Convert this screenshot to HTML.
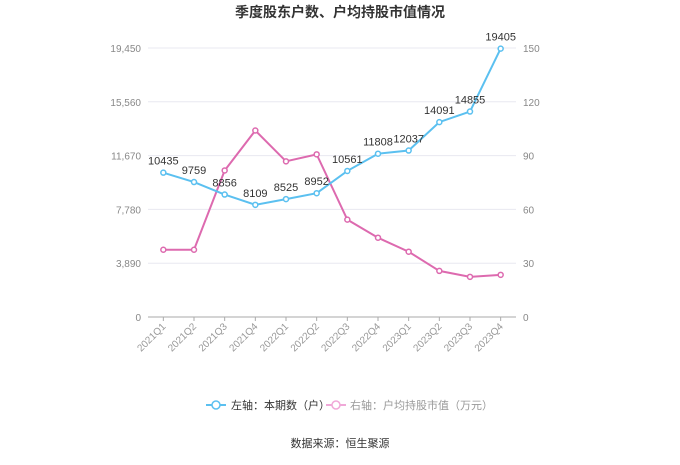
<!DOCTYPE html>
<html><head><meta charset="utf-8"><style>
body{margin:0;background:#fff;}
svg text{font-family:"Liberation Sans","Noto Sans CJK SC",sans-serif;}
</style></head><body>
<svg id="chart" width="680" height="460" xmlns="http://www.w3.org/2000/svg">
<text x="340" y="17" text-anchor="middle" font-size="14" font-weight="bold" fill="#333">季度股东户数、户均持股市值情况</text>
<g id="grid"></g><g id="axes"></g><g id="series"></g>
<g>
<g>
<line x1="206" y1="405" x2="226" y2="405" stroke="#5bc0f0" stroke-width="2"/><circle cx="216" cy="405" r="4" fill="#fff" stroke="#5bc0f0" stroke-width="1.5"/>
<text x="231" y="409" font-size="11" fill="#333">左轴：本期数（户）</text></g>
<g>
<line x1="326" y1="405" x2="346" y2="405" stroke="#f0a8d8" stroke-width="2"/><circle cx="336" cy="405" r="4" fill="#fff" stroke="#f0a8d8" stroke-width="1.5"/>
<text x="350" y="409" font-size="11" fill="#999">右轴：户均持股市值（万元）</text></g>
</g>
<text x="340" y="447" text-anchor="middle" font-size="11" fill="#333">数据来源：恒生聚源</text>
</svg>
<script>
const categories=["2021Q1","2021Q2","2021Q3","2021Q4","2022Q1","2022Q2","2022Q3","2022Q4","2023Q1","2023Q2","2023Q3","2023Q4"];
const holders=[10435,9759,8856,8109,8525,8952,10561,11808,12037,14091,14855,19405];
const avgValue=[37.5,37.5,81.7,104,86.8,90.7,54.3,44.2,36.4,25.7,22.4,23.5];
const leftTicks=[0,3890,7780,11670,15560,19450];
const rightTicks=[0,30,60,90,120,150];
const NS="http://www.w3.org/2000/svg";
const x0=148,x1=516,yTop=48,yBot=317;
const bw=(x1-x0)/categories.length;
const xs=i=>x0+bw*(i+0.5);
const yl=v=>yBot-(v/19450)*(yBot-yTop);
const yr=v=>yBot-(v/150)*(yBot-yTop);
function mk(tag,attrs,parent,text){const e=document.createElementNS(NS,tag);for(const k in attrs)e.setAttribute(k,attrs[k]);if(text!==undefined)e.textContent=text;parent.appendChild(e);return e;}
const grid=document.getElementById('grid'),axes=document.getElementById('axes'),series=document.getElementById('series');
leftTicks.forEach((t,i)=>{
 const y=yl(t);
 if(i>0){const g=mk('line',{x1:x0,x2:x1,y1:y,y2:y,stroke:'#e8e8f0','stroke-width':1},grid);
 
 }
 const l=mk('text',{x:141,y:y+4,'text-anchor':'end','font-size':10,fill:'#888'},axes,t.toLocaleString('en-US'));
 
 
});
rightTicks.forEach(t=>{
 const l=mk('text',{x:523,y:yr(t)+4,'font-size':10,fill:'#888'},axes,String(t));
 
 
});
const ax=mk('line',{x1:x0,x2:x1,y1:yBot,y2:yBot,stroke:'#aaa','stroke-width':1},axes);


categories.forEach((c,i)=>{
 const x=xs(i);
 mk('line',{x1:x,x2:x,y1:yBot,y2:yBot+4,stroke:'#aaa'},axes);
 const t=mk('text',{x:x+3,y:yBot+10,'text-anchor':'end','font-size':10,fill:'#999',transform:`rotate(-45 ${x+3} ${yBot+10})`},axes,c);
 
 
});
function drawSeries(vals,yf,color,name,labels){
 const p=mk('polyline',{points:vals.map((v,i)=>xs(i)+','+yf(v)).join(' '),fill:'none',stroke:color,'stroke-width':2},series);
 
 
 vals.forEach((v,i)=>{
  const c=mk('circle',{cx:xs(i),cy:yf(v),r:2.5,fill:'#fff',stroke:color,'stroke-width':1.5},series);
  
  
  if(labels){const t=mk('text',{x:xs(i),y:yf(v)-8,'text-anchor':'middle','font-size':11,fill:'#333'},series,String(v));
  
  }
 });
}
drawSeries(avgValue,yr,'#dd6aaf','avg-value',false);
drawSeries(holders,yl,'#5bc0f0','holders',true);
</script>
</body></html>
